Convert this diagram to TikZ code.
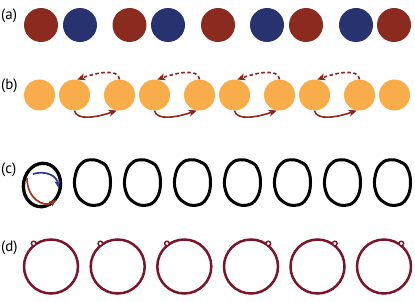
\documentclass[tikz,border=0pt]{standalone}
\usepackage{fontspec}
\setmainfont{PT Sans}
\usetikzlibrary{arrows.meta,calc}
\definecolor{cred}{RGB}{139,42,30}
\definecolor{cblue}{RGB}{39,50,110}
\definecolor{corange}{RGB}{249,172,74}
\definecolor{carrow}{RGB}{140,40,28}
\definecolor{cmaroon}{RGB}{122,22,44}
\definecolor{ablue}{RGB}{43,60,140}
\definecolor{ared}{RGB}{160,54,30}
\tikzset{
  lbl/.style={anchor=west, inner sep=0pt, font=\fontsize{15}{15}\selectfont},
  dotA/.style={circle, minimum size=34pt, inner sep=0pt, draw=none},
  dotB/.style={circle, minimum size=31pt, inner sep=0pt, draw=none, fill=corange},
  hop/.style={line width=1.6pt, draw=carrow, -{Stealth[length=8pt,width=7pt,inset=2pt]}},
  hopd/.style={hop, dash pattern=on 3.5pt off 2.5pt},
  blob/.style={line width=3pt, draw=black},
  ringbig/.style={circle, minimum size=54pt, inner sep=0pt, draw=cmaroon, line width=2.5pt},
  ringsmall/.style={circle, minimum size=4.6pt, inner sep=0pt, draw=cmaroon, fill=white, line width=1.4pt},
  inarr/.style={line width=1.7pt, -{Stealth[length=7pt,width=6pt,inset=1.8pt]}}
}
\begin{document}
\begin{tikzpicture}[x=1pt,y=-1pt]
\useasboundingbox (0,0) rectangle (415,302);
% labels
\node[lbl] (la) at (1,16) {(a)};
\node[lbl] (lb) at (1,86) {(b)};
\node[lbl] (lc) at (1,170) {(c)};
\node[lbl] (ld) at (1,248) {(d)};
% row a
\foreach \x/\c [count=\i] in {41/cred,80/cblue,129.5/cred,168/cblue,218/cred,267/cblue,306/cred,356/cblue,394/cred}
  \node[dotA, fill=\c] (a\i) at (\x,25) {};
% row b
\foreach \x [count=\i] in {39.5,74.5,119.5,154.5,199.5,234.5,279.5,314.5,359.5,394.5}
  \node[dotB] (b\i) at (\x,95) {};
\foreach \p/\q in {b2/b3,b4/b5,b6/b7,b8/b9}{
  \draw[hop] (\p.south) .. controls +(2,10) and +(-20,7) .. (\q.-100);
  \draw[hopd] (\q.north) .. controls +(-1,-11) and +(20,-7) .. (\p.80);
}
% row c
\draw[blob, line width=3.3pt, rotate around={-10:(42,185)}] (42,185) ellipse [x radius=18.5, y radius=21.8];
\coordinate (cb0) at (33,174);
\coordinate (cb1) at (58.5,188);
\coordinate (cr0) at (27,178);
\coordinate (cr1) at (56.5,200);
\draw[inarr, draw=ablue] (cb0) .. controls (46,170) and (57,176) .. (cb1);
\draw[inarr, draw=ared] (cr0) .. controls (27,199) and (44,208) .. (cr1);
\foreach \cx in {92.5,142.5,192.5,242.5,292.5,342.5,392.5}
  \draw[blob, shift={(\cx,182.5)}] plot[smooth cycle, tension=0.75] coordinates
   {(-2,-22.7) (8,-20.5) (15,-14) (18,1) (14,16) (4,22.7) (-9,19.5) (-17,8) (-17,-8) (-11,-19)};
% row d
\foreach \x/\ang [count=\i] in {51/127,117.7/127,184.3/127,251/53,317.5/53,384/53}{
  \node[ringbig] (d\i) at (\x,266.5) {};
  \node[ringsmall] (r\i) at ($(d\i.center)+(\ang:28.8pt)$) {};
}
\end{tikzpicture}
\end{document}
